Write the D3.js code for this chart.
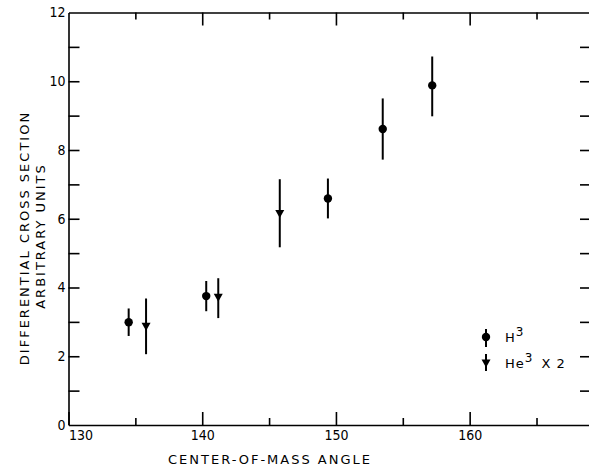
<!DOCTYPE html>
<html lang="en">
<head>
    <meta charset="UTF-8">
    <title>Differential cross section</title>
    <script type="text/javascript" src="https://cdn.jsdelivr.net/npm/d3@7/dist/d3.min.js"></script>
</head>
<style>
    body{ margin:0; background:#fff; }
    .axis path,.axis line{
        fill:none;
        stroke:#000;
        stroke-width:1.6px;
    }
    .axis text{
        font-family: "DejaVu Sans Condensed", "DejaVu Sans", sans-serif;
        font-stretch: condensed;
        font-size: 14px;
        fill:#000;
    }
    .title{
        font-family: "DejaVu Sans", sans-serif;
        font-size: 13px;
        fill:#000;
        letter-spacing: 2px;
    }
</style>
<body>

<script>
// data
var h3Angle = [134.5, 140.3, 149.4, 153.5, 157.2];
var h3Value = [2.99, 3.75, 6.59, 8.61, 9.88];
var h3Lo    = [2.59, 3.31, 6.01, 7.72, 8.98];
var h3Hi    = [3.39, 4.19, 7.17, 9.50, 10.72];

var he3Angle = [135.8, 141.2, 145.8];
var he3Value = [2.87, 3.72, 6.15];
var he3Lo    = [2.06, 3.11, 5.17];
var he3Hi    = [3.68, 4.27, 7.15];

var xMajor = [130, 140, 150, 160];
var xMinor = [135, 145, 155, 165];
var yTicks = [0,1,2,3,4,5,6,7,8,9,10,11,12];
var yLabels = [0,2,4,6,8,10,12];

var width = 589, height = 466;
var svg = d3.select("body").append("svg")
        .attr("width", width)
        .attr("height", height);

var x = d3.scaleLinear().domain([130, 169]).range([68.5, 590]);
var y = d3.scaleLinear().domain([0, 12]).range([425, 12.5]);

// bottom axis, ticks inward
svg.append("g").attr("class","axis")
        .attr("transform","translate(0," + y(0) + ")")
        .call(d3.axisBottom(x).tickValues(xMajor).tickSizeInner(-13).tickSizeOuter(0).tickPadding(5))
        .call(function(g){
            g.selectAll(".tick text").filter(function(d){ return d === 130; })
                .attr("text-anchor","start").attr("dx", 0);
        });
svg.append("g").attr("class","axis")
        .attr("transform","translate(0," + y(0) + ")")
        .call(d3.axisBottom(x).tickValues(xMinor).tickSizeInner(-7).tickSizeOuter(0).tickFormat(""))
        .select(".domain").remove();

// top axis
svg.append("g").attr("class","axis")
        .attr("transform","translate(0," + y(12) + ")")
        .call(d3.axisTop(x).tickValues(xMajor.slice(1)).tickSizeInner(-13).tickSizeOuter(0).tickFormat(""));
svg.append("g").attr("class","axis")
        .attr("transform","translate(0," + y(12) + ")")
        .call(d3.axisTop(x).tickValues(xMinor).tickSizeInner(-7).tickSizeOuter(0).tickFormat(""))
        .select(".domain").remove();

// left axis
svg.append("g").attr("class","axis")
        .attr("transform","translate(" + x(130) + ",0)")
        .call(d3.axisLeft(y).tickValues(yTicks).tickSizeInner(-11).tickSizeOuter(0).tickPadding(3)
            .tickFormat(function(d){ return yLabels.indexOf(d) >= 0 ? d : ""; }))
        .call(function(g){
            g.selectAll(".tick").filter(function(d){ return d === 0 || d === 12; }).select("line").remove();
        });

// right axis
svg.append("g").attr("class","axis")
        .attr("transform","translate(" + x(169) + ",0)")
        .call(d3.axisRight(y).tickValues(yTicks.slice(1, 12)).tickSizeInner(-10).tickSizeOuter(0).tickFormat(""));

// error bars and markers
var ink = "#000";
var h3 = h3Angle.map(function(a, i){ return {a:a, v:h3Value[i], lo:h3Lo[i], hi:h3Hi[i]}; });
var he3 = he3Angle.map(function(a, i){ return {a:a, v:he3Value[i], lo:he3Lo[i], hi:he3Hi[i]}; });

function bars(data){
    svg.append("g").selectAll("line").data(data).enter().append("line")
        .attr("x1", function(d){ return x(d.a); })
        .attr("x2", function(d){ return x(d.a); })
        .attr("y1", function(d){ return y(d.lo); })
        .attr("y2", function(d){ return y(d.hi); })
        .attr("stroke", ink).attr("stroke-width", 2);
}
bars(h3);
bars(he3);

var tri = "M-4.5,-3.5L4.5,-3.5L0,4.5Z";

svg.append("g").selectAll("circle").data(h3).enter().append("circle")
        .attr("cx", function(d){ return x(d.a); })
        .attr("cy", function(d){ return y(d.v); })
        .attr("r", 4.2)
        .attr("fill", ink);

svg.append("g").selectAll("path").data(he3).enter().append("path")
        .attr("d", tri)
        .attr("transform", function(d){ return "translate(" + x(d.a) + "," + y(d.v) + ")"; })
        .attr("fill", ink);

// legend
var lg = svg.append("g").attr("transform","translate(486,337)");
lg.append("line").attr("y1",-8).attr("y2",10).attr("stroke",ink).attr("stroke-width",2);
lg.append("circle").attr("r",4.2).attr("fill",ink);
var t1 = lg.append("text").attr("class","title").attr("x",19).attr("y",5).style("letter-spacing","1px");
t1.append("tspan").text("H");
t1.append("tspan").attr("dy",-6).style("font-size","12px").text("3");

var lg2 = svg.append("g").attr("transform","translate(486,363)");
lg2.append("line").attr("y1",-9).attr("y2",8).attr("stroke",ink).attr("stroke-width",2);
lg2.append("path").attr("d", tri).attr("fill",ink);
var t2 = lg2.append("text").attr("class","title").attr("x",19).attr("y",5).style("letter-spacing","1px");
t2.append("tspan").text("He");
t2.append("tspan").attr("dy",-6).style("font-size","12px").text("3");
t2.append("tspan").attr("dy",6).attr("dx",8).text("X 2");

// axis titles
svg.append("text").attr("class","title")
        .attr("x", 270).attr("y", 464)
        .attr("text-anchor","middle")
        .text("CENTER-OF-MASS ANGLE");

svg.append("text").attr("class","title")
        .attr("transform","translate(29,238) rotate(-90)")
        .attr("text-anchor","middle")
        .text("DIFFERENTIAL CROSS SECTION");
svg.append("text").attr("class","title")
        .attr("transform","translate(45,236) rotate(-90)")
        .attr("text-anchor","middle")
        .text("ARBITRARY UNITS");
</script>
</body>
</html>
